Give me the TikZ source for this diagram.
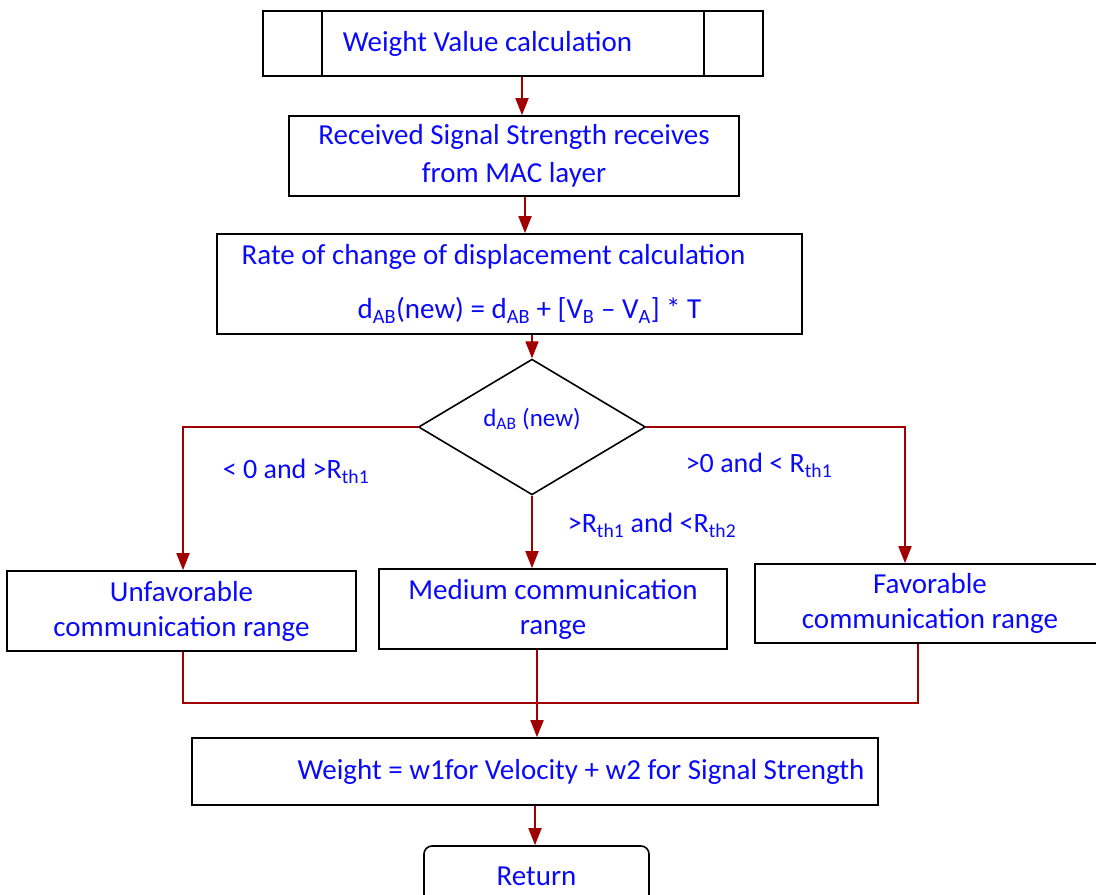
\documentclass[tikz,border=0pt]{standalone}
\usepackage{fontspec}
\setmainfont{Carlito}
\usepackage{tikz}
\usetikzlibrary{positioning,arrows,arrows.meta,shapes.geometric}
\definecolor{linkred}{RGB}{160,0,0}
\definecolor{txtblue}{RGB}{10,10,250}

\begin{document}
\begin{tikzpicture}[x=1pt,y=-1pt,
	box/.style={rectangle,draw=black,line width=1.6pt,text=txtblue,font=\fontsize{29}{35}\selectfont,align=center,inner sep=2pt},
	cond/.style={text=txtblue,font=\fontsize{28}{32}\selectfont,inner sep=0pt},
	conn/.style={draw=linkred,line width=1.8pt},
	arr/.style={conn,-{Triangle[length=17pt,width=13pt]}}]

		\useasboundingbox (0,0) rectangle (1096,895);

		%top nodes
		\node[box,minimum width=500pt,minimum height=65pt] (calc) at (513,43.5) {Weight Value calculation\hspace*{51pt}};
		\draw[line width=1.6pt] ([xshift=60pt]calc.north west) -- ([xshift=60pt]calc.south west);
		\draw[line width=1.6pt] ([xshift=-60pt]calc.north east) -- ([xshift=-60pt]calc.south east);
		\node[box,minimum width=450pt,minimum height=80pt] (rss) at (514,156) {Received Signal Strength receives\\[3pt]from MAC layer};
		\node[box,minimum width=585pt,minimum height=100pt] (disp) at (509.5,284) {Rate of change of displacement calculation\hspace*{32pt}\\[19pt]\hspace*{40pt}d\textsubscript{AB}(new) = d\textsubscript{AB} + [V\textsubscript{B} – V\textsubscript{A}] * T};

		%decision
		\node[diamond,draw=black,line width=1.6pt,minimum width=227pt,minimum height=134pt,inner sep=0pt,text=txtblue,font=\fontsize{25}{30}\selectfont] (dab) at (532,427) {\raisebox{20pt}{d\textsubscript{AB} (new)}};

		%range nodes
		\node[box,minimum width=349pt,minimum height=80pt] (unfav) at (181.5,611) {Unfavorable\\communication range};
		\node[box,minimum width=348pt,minimum height=80pt] (med) at (553,609) {Medium communication\\range};
		\node[box,minimum width=350pt,minimum height=79pt] (fav) at (930,603.5) {Favorable\\communication range};

		%bottom nodes
		\node[box,minimum width=686pt,minimum height=67pt] (weight) at (535,771.5) {\hspace*{92pt}Weight = w1for Velocity + w2 for Signal Strength};
		\node[box,rounded corners=8pt,minimum width=225pt,minimum height=60pt] (ret) at (536.5,876) {Return};

		%conditions
		\node[cond] (cleft) at (296,471) {< 0 and >R\textsubscript{th1}};
		\node[cond] (cright) at (759,465) {>0 and < R\textsubscript{th1}};
		\node[cond] (cmid) at (652,525) {>R\textsubscript{th1} and <R\textsubscript{th2}};

		\coordinate (jl) at (183,703);
		\coordinate (jr) at (918,703);

		%edges
		\draw[arr] ([xshift=9pt]calc.south) -- ([xshift=9pt]calc.south |- rss.north);
		\draw[arr] ([xshift=11pt]rss.south) -- ([xshift=11pt]rss.south |- disp.north);
		\draw[arr] (dab.north |- disp.south) -- (dab.north);
		\draw[arr] (dab.west) -| ([xshift=1.5pt]unfav.north);
		\draw[arr] (dab.south) -- (dab.south |- med.north);
		\draw[arr] (dab.east) -| ([xshift=-25pt]fav.north);
		\draw[conn] ([xshift=1.5pt]unfav.south) -- (jl) -- (jr) -- ([xshift=-12pt]fav.south);
		\draw[arr] ([xshift=2pt]weight.north |- med.south) -- ([xshift=2pt]weight.north);
		\draw[arr] (weight.south) -- (weight.south |- ret.north);

		\end{tikzpicture}
\end{document}
